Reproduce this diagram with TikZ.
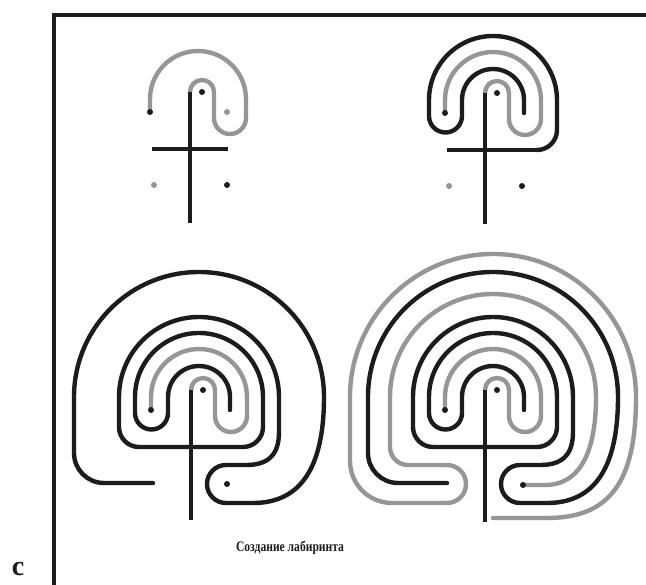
\documentclass[tikz,border=0pt]{standalone}
\usepackage{fontspec}
\setmainfont{Liberation Serif}
\newfontfamily\lbCapFont[FakeStretch=0.8]{Liberation Serif}
\definecolor{ink}{RGB}{28,28,28}
\definecolor{lgray}{RGB}{150,150,150}
\newcommand{\lbGrayOne}{(0,-57) arc[start angle=180,end angle=360,radius=12] -- (24,-31) arc[start angle=180,end angle=0,radius=16] -- (56,-50) arc[start angle=0,end angle=-180,radius=48] -- (-40,-37)}
\newcommand{\lbBlackTwo}{(39,-37) -- (39,-50) arc[start angle=0,end angle=-180,radius=31] -- (-23,-34) arc[start angle=0,end angle=180,radius=16.5] -- (-56,-50) arc[start angle=180,end angle=360,radius=64] -- (72,-20) arc[start angle=0,end angle=90,radius=20]}
\newcommand{\lbBlackThree}{-- (-52,0) arc[start angle=90,end angle=180,radius=20] -- (-72,-50) arc[start angle=180,end angle=360,radius=80] -- (88,-15) .. controls (88,10) and (75,18) .. (55,18) -- (35,18) arc[start angle=-90,end angle=-270,radius=19] -- (62,56) .. controls (110,56) and (133,20) .. (133,-50) arc[start angle=0,end angle=-180,radius=125] -- (-117,6) arc[start angle=180,end angle=90,radius=30] -- (-38,36)}
\newcommand{\lbGrayFour}{(38,38) -- (60,38) .. controls (95,38) and (111,5) .. (111,-50) arc[start angle=0,end angle=-180,radius=103] -- (-95,0) arc[start angle=180,end angle=90,radius=18] -- (-38,18) arc[start angle=-90,end angle=90,radius=19] -- (-93,56) arc[start angle=90,end angle=180,radius=42] -- (-135,-50) arc[start angle=180,end angle=360,radius=143] .. controls (151,35) and (125,71) .. (62,71) -- (8,71)}
\begin{document}
\begin{tikzpicture}[x=1pt,y=-1pt,
  blk/.style={draw=ink,line width=4.4pt,line cap=round,line join=round},
  gry/.style={draw=lgray,line width=4.4pt,line cap=round,line join=round},
  bar/.style={draw=ink,line width=4.4pt},
  bdot/.style={circle,fill=ink,inner sep=0pt,minimum size=6pt},
  gdot/.style={circle,fill=lgray,inner sep=0pt,minimum size=6pt},
  frameline/.style={draw=ink,line width=3.3pt,line join=miter}]
\useasboundingbox[fill=white] (0,0) rectangle (646,585);
% frame
\draw[frameline] (54,585) -- (54,15) -- (646,15);
% figure 1
\begin{scope}[shift={(190,149)}]
  \draw[gry] \lbGrayOne;
  \draw[bar] (0,-57) -- (0,74);
  \draw[bar] (-38,0) -- (38,0);
  \node[bdot] (f1a) at (12,-57) {};
  \node[gdot] (f1b) at (37,-37) {};
  \node[bdot] (f1c) at (-40,-37) {};
  \node[gdot] (f1d) at (-36,36) {};
  \node[bdot] (f1e) at (37,36) {};
\end{scope}
% figure 2
\begin{scope}[shift={(485,150)}]
  \draw[gry] \lbGrayOne;
  \draw[blk] \lbBlackTwo;
  \draw[bar] (52,0) -- (-38,0);
  \draw[bar] (0,-57) -- (0,74);
  \node[bdot] (f2a) at (12,-57) {};
  \node[bdot] (f2c) at (-40,-37) {};
  \node[gdot] (f2d) at (-36,36) {};
  \node[bdot] (f2e) at (37,36) {};
\end{scope}
% figure 3
\begin{scope}[shift={(191,447)}]
  \draw[gry] \lbGrayOne;
  \draw[blk] \lbBlackTwo \lbBlackThree;
  \draw[bar] (0,-57) -- (0,73);
  \node[bdot] (f3a) at (12,-57) {};
  \node[bdot] (f3c) at (-40,-37) {};
  \node[bdot] (f3e) at (36,37) {};
\end{scope}
% figure 4
\begin{scope}[shift={(485,447)}]
  \draw[gry] \lbGrayOne;
  \draw[gry] \lbGrayFour;
  \draw[blk] \lbBlackTwo \lbBlackThree;
  \draw[bar] (0,-57) -- (0,75);
  \node[bdot] (f4a) at (12,-57) {};
  \node[bdot] (f4c) at (-40,-37) {};
  \node[bdot] (f4e) at (38,38) {};
\end{scope}
\node[font=\lbCapFont\bfseries\fontsize{14.5}{16}\selectfont,text=ink] (cap) at (290,548) {Создание лабиринта};
\node[font=\bfseries\fontsize{28}{28}\selectfont,text=ink] (lab) at (18,569) {c};
\end{tikzpicture}
\end{document}
